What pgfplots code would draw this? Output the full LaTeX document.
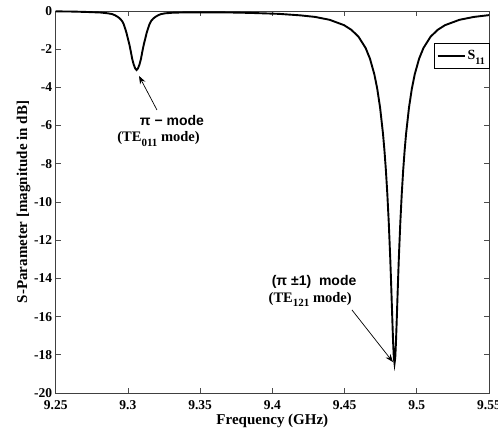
\documentclass[border=0pt]{standalone}
\usepackage{fontspec}
\setmainfont{Liberation Serif}
\newfontfamily\arialfont{Liberation Sans}
\usepackage{pgfplots}
\pgfplotsset{compat=1.18}
\usetikzlibrary{arrows.meta}

% lowered subscript in the text font
\newcommand{\sub}[2][10]{\raisebox{-4.5pt}{\fontsize{#1}{#1}\selectfont #2}}

\begin{document}
\begin{tikzpicture}
\begin{axis}[
  at={(0pt,0pt)}, anchor=south west,
  scale only axis,
  width=433.3pt, height=382pt,
  xmin=9.25, xmax=9.55,
  ymin=-20, ymax=0,
  xtick={9.25,9.3,9.35,9.4,9.45,9.5,9.55},
  xticklabels={9.25,9.3,9.35,9.4,9.45,9.5,9.55},
  ytick={-20,-18,-16,-14,-12,-10,-8,-6,-4,-2,0},
  yticklabels={-20,-18,-16,-14,-12,-10,-8,-6,-4,-2,0},
  tick align=inside,
  xtick pos=both, ytick pos=both,
  xticklabel pos=lower, yticklabel pos=left,
  major tick length=5pt,
  every tick/.style={black!70, line width=0.6pt},
  axis line style={black!75, line width=0.8pt},
  tick label style={font=\bfseries\fontsize{13.5}{16}\selectfont, black},
  xticklabel style={yshift=-4pt},
  xlabel={Frequency (GHz)},
  ylabel={S-Parameter [magnitude in dB]},
  label style={font=\bfseries\fontsize{15}{18}\selectfont},
  xlabel style={at={(axis description cs:0.5,-0.0812)}, anchor=base},
  ylabel style={at={(axis description cs:-0.0662,0.5)}, anchor=base},
  legend style={at={(rel axis cs:1,0.916)}, anchor=north east,
    draw=black, line width=0.5pt, fill=white,
    inner xsep=2pt, inner ysep=5pt,
    font=\bfseries\fontsize{14}{16}\selectfont},
  legend cell align=left,
  legend image code/.code={\draw[#1, line width=1.8pt] (0pt,0pt) -- (27pt,0pt);},
]
% measured reflection coefficient of the two-mode structure
\addplot[black, line width=1.9pt] coordinates {
(9.250,-0.02) (9.262,-0.03) (9.271,-0.05) (9.281,-0.08) (9.286,-0.12)
(9.289,-0.16) (9.291,-0.22) (9.293,-0.31) (9.2945,-0.40) (9.296,-0.53)
(9.297,-0.68) (9.298,-0.90) (9.299,-1.14) (9.300,-1.45) (9.301,-1.75)
(9.302,-2.12) (9.303,-2.52) (9.304,-2.80) (9.305,-3.00) (9.306,-3.09)
(9.307,-3.00) (9.308,-2.80) (9.309,-2.52) (9.310,-2.12) (9.311,-1.75)
(9.312,-1.45) (9.313,-1.14) (9.314,-0.90) (9.315,-0.68) (9.316,-0.53)
(9.3175,-0.40) (9.319,-0.31) (9.321,-0.22) (9.323,-0.16) (9.326,-0.12)
(9.331,-0.09) (9.341,-0.07) (9.360,-0.07) (9.372,-0.08) (9.3846,-0.10)
(9.4046,-0.15) (9.4196,-0.23) (9.4296,-0.31) (9.4396,-0.46) (9.4496,-0.74)
(9.4546,-0.98) (9.4596,-1.34) (9.4646,-1.94) (9.4676,-2.50) (9.4706,-3.31)
(9.4726,-4.06) (9.4746,-5.06) (9.4766,-6.42) (9.4776,-7.29) (9.4786,-8.32)
(9.4796,-9.57) (9.4806,-11.07) (9.4816,-12.90) (9.4821,-13.95) (9.4826,-15.08)
(9.4831,-16.23) (9.4836,-17.32) (9.4841,-18.14) (9.4846,-18.45)
(9.4851,-18.14) (9.4856,-17.32) (9.4861,-16.23) (9.4866,-15.08) (9.4871,-13.95)
(9.4876,-12.90) (9.4886,-11.07) (9.4896,-9.57) (9.4906,-8.32) (9.4916,-7.29)
(9.4926,-6.42) (9.4946,-5.06) (9.4966,-4.06) (9.4986,-3.31) (9.5016,-2.50)
(9.5046,-1.94) (9.5096,-1.34) (9.5146,-0.98) (9.5196,-0.74) (9.5296,-0.46)
(9.5396,-0.31) (9.5496,-0.22) (9.550,-0.22)
};
\addlegendentry{S\sub{11}}

% mode annotations
\draw[black, line width=0.7pt, -{Stealth[length=8pt,width=6pt]}]
  (axis cs:9.3201,-5.18) -- (axis cs:9.3077,-3.40);
\node[anchor=base, inner sep=0pt, font=\arialfont\bfseries\fontsize{14}{16}\selectfont]
  at (axis cs:9.3305,-6.02) {π − mode};
\node[anchor=base, inner sep=0pt, font=\bfseries\fontsize{14.5}{16}\selectfont]
  at (axis cs:9.3212,-6.84) {(TE\sub[11]{011} mode)};

\draw[black, line width=0.7pt, -{Stealth[length=8pt,width=6pt]}]
  (axis cs:9.4551,-15.65) -- (axis cs:9.4835,-18.38);
\node[anchor=base, inner sep=0pt, font=\arialfont\bfseries\fontsize{14}{16}\selectfont]
  at (axis cs:9.4289,-14.35) {(π ±1)\ \ mode};
\node[anchor=base, inner sep=0pt, font=\bfseries\fontsize{14.5}{16}\selectfont]
  at (axis cs:9.4262,-15.24) {(TE\sub[11]{121} mode)};
\end{axis}
\pgfresetboundingbox
\path (-55.7pt,-40pt) rectangle (442.3pt,393pt);
\end{tikzpicture}
\end{document}
